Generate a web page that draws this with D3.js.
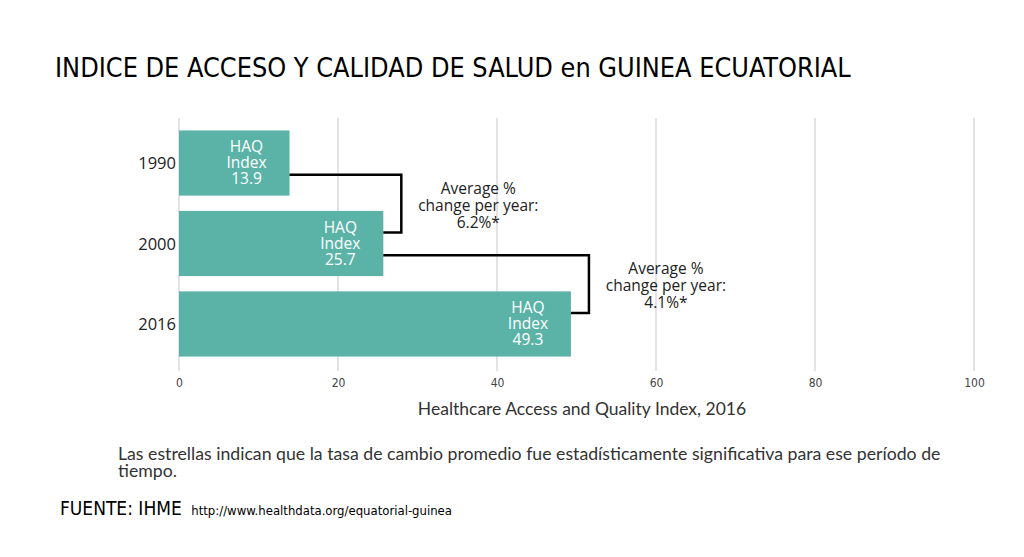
<!DOCTYPE html>
<html><head><meta charset="utf-8">
<script src="https://cdn.jsdelivr.net/npm/d3@7"></script>
<style>body{margin:0;background:#fff}svg{display:block}</style>
</head><body>
<script>
const years = ["1990", "2000", "2016"];
const haq = [13.9, 25.7, 49.3];
const changes = ["6.2%*", "4.1%*"];
const ticks = [0, 20, 40, 60, 80, 100];

const W = 1024, H = 557;
const svg = d3.select("body").append("svg").attr("width", W).attr("height", H);
svg.append("rect").attr("width", W).attr("height", H).attr("fill", "#fff");

const x = d3.scaleLinear().domain([0, 100]).range([179, 974]);
const y = d3.scaleBand().domain(years).range([124, 363]).paddingInner(0.19).paddingOuter(0.08);
const teal = "#5bb3a8";
const font = "'Open Sans', Lato, sans-serif";
const narrow = "'Liberation Sans Narrow', 'DejaVu Sans Condensed', sans-serif";

svg.append("text").attr("x", 55).attr("y", 77)
  .attr("font-family", narrow)
  .attr("font-size", 26.8).attr("fill", "#000")
  .text("INDICE DE ACCESO Y CALIDAD DE SALUD en GUINEA ECUATORIAL");

// gridlines
svg.append("g").selectAll("line").data(ticks).join("line")
  .attr("x1", d => x(d)).attr("x2", d => x(d)).attr("y1", 118).attr("y2", 371)
  .attr("stroke", "#d0d0d0").attr("stroke-width", 1.2);

// axis
const ax = svg.append("g").attr("transform", "translate(0,372)")
  .call(d3.axisBottom(x).tickValues(ticks).tickSize(0).tickPadding(6));
ax.select(".domain").remove();
ax.selectAll("text").attr("font-family", narrow)
  .attr("font-size", 12).attr("fill", "#444");

svg.append("text").attr("x", 582).attr("y", 415).attr("text-anchor", "middle")
  .attr("font-family", "Lato, sans-serif").attr("font-size", 17.5).attr("fill", "#333")
  .text("Healthcare Access and Quality Index, 2016");

// bars
svg.append("g").selectAll("rect").data(years).join("rect")
  .attr("x", x(0)).attr("y", d => y(d)).attr("width", (d, i) => x(haq[i]) - x(0))
  .attr("height", y.bandwidth()).attr("fill", teal);

// year labels
svg.append("g").selectAll("text").data(years).join("text")
  .attr("x", 176).attr("y", d => y(d) + y.bandwidth() / 2 + 6).attr("text-anchor", "end")
  .attr("font-family", font).attr("font-size", 16.5).attr("fill", "#222").text(d => d);

// bar labels
years.forEach((yr, i) => {
  const cx = x(haq[i]) - 43;
  ["HAQ", "Index", haq[i].toFixed(1)].forEach((s, k) => {
    svg.append("text").attr("text-anchor", "middle")
      .attr("font-family", font).attr("font-size", 15.5).attr("fill", "#fff")
      .attr("x", cx).attr("y", y(yr) + 22 + k * 16).text(s);
  });
});

// brackets & annotations
for (let i = 0; i < 2; i++) {
  const bx = x(haq[i + 1]) + 18;
  const y1 = y(years[i]) + y.bandwidth() * 0.68;
  const y2 = y(years[i + 1]) + y.bandwidth() * 0.33;
  svg.append("path")
    .attr("d", `M${x(haq[i])},${y1}H${bx}V${y2}H${x(haq[i + 1])}`)
    .attr("fill", "none").attr("stroke", "#000").attr("stroke-width", 2.5);
  const cx = bx + 77, ty = (y1 + y2) / 2 - 10;
  ["Average %", "change per year:", changes[i]].forEach((s, k) => {
    svg.append("text").attr("text-anchor", "middle")
      .attr("font-family", font).attr("font-size", 15.5).attr("fill", "#222")
      .attr("x", cx).attr("y", ty + k * 17).text(s);
  });
}

// footnote
["Las estrellas indican que la tasa de cambio promedio fue estadísticamente significativa para ese período de", "tiempo."]
  .forEach((s, k) => {
    svg.append("text").attr("font-family", "Lato, sans-serif").attr("font-size", 17.7).attr("fill", "#333")
      .attr("x", 118).attr("y", 460 + k * 17).text(s);
  });

const src = svg.append("text").attr("x", 60).attr("y", 515)
  .attr("font-family", narrow).attr("fill", "#000");
src.append("tspan").attr("font-size", 19).text("FUENTE:  IHME ");
src.append("tspan").attr("font-size", 13).attr("dx", 4).text("http://www.healthdata.org/equatorial-guinea");
</script>
</body></html>
